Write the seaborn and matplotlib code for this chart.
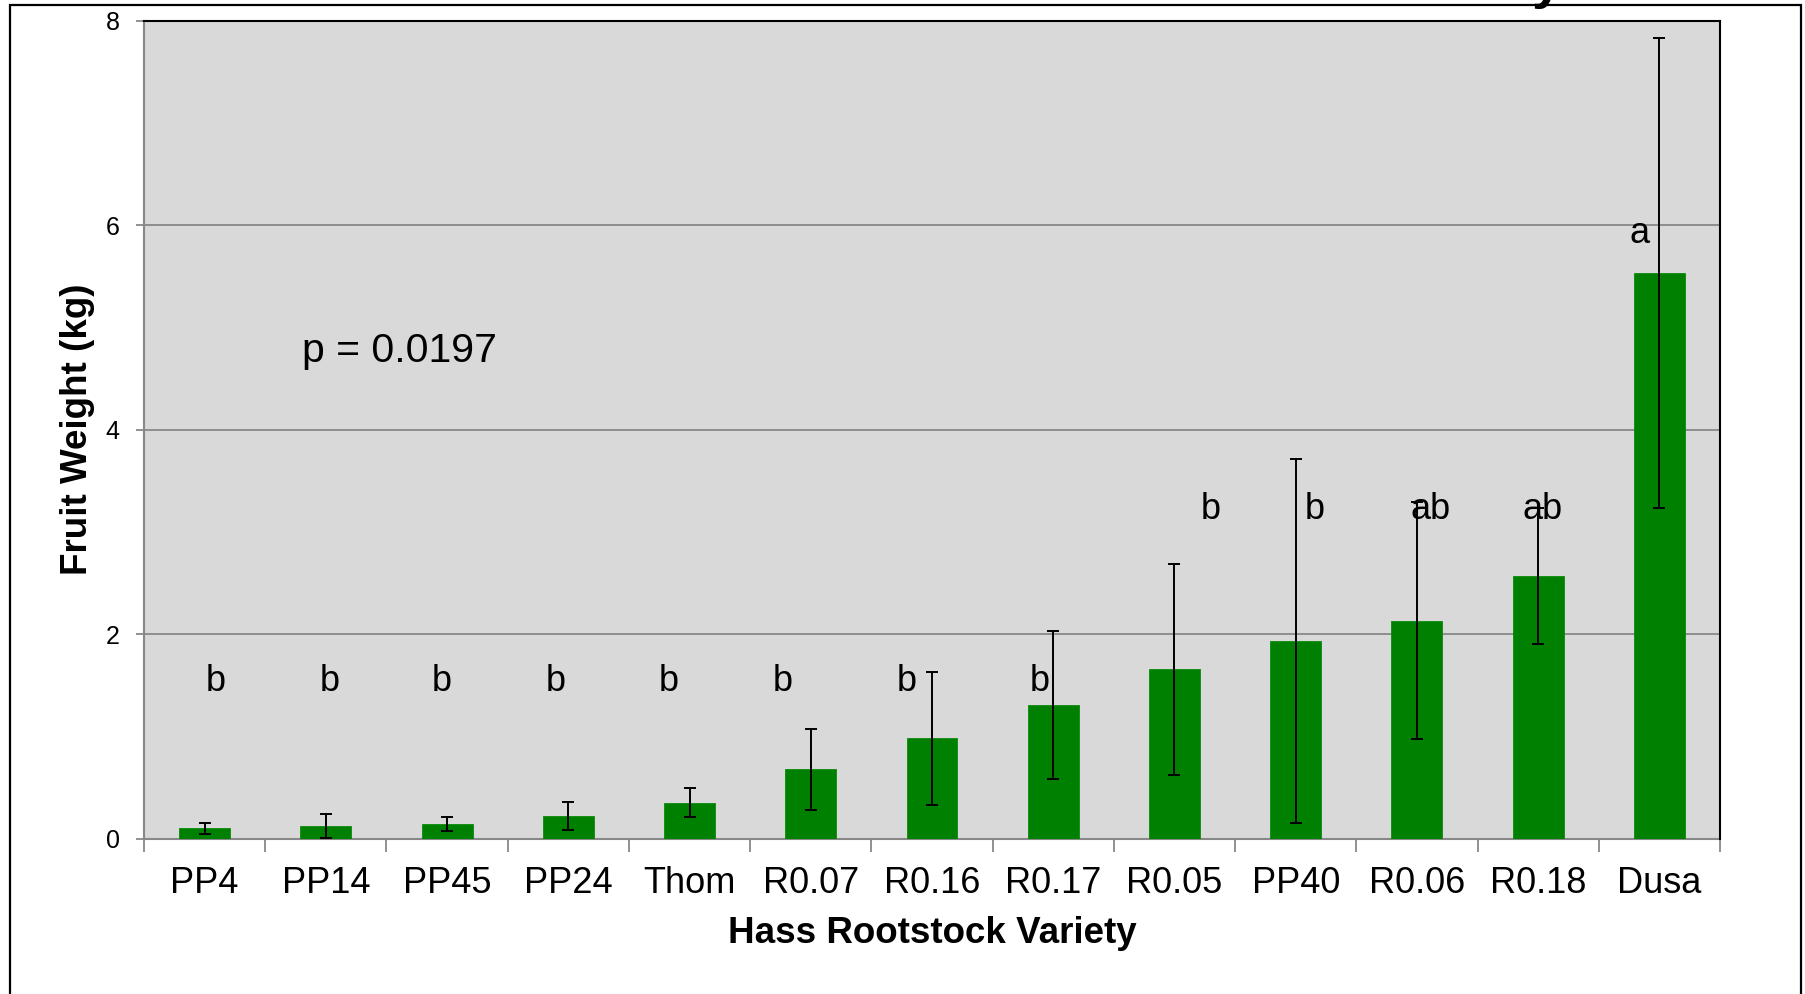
import matplotlib
matplotlib.use("Agg")
import matplotlib.pyplot as plt
import matplotlib.patches as mpatches
from matplotlib.ticker import FixedLocator, NullFormatter
import seaborn as sns
import pandas as pd

# ---- data ----
varieties = ["PP4", "PP14", "PP45", "PP24", "Thom", "R0.07", "R0.16",
             "R0.17", "R0.05", "PP40", "R0.06", "R0.18", "Dusa"]
fruit_weight = [0.10, 0.12, 0.145, 0.22, 0.35, 0.675, 0.98,
                1.305, 1.655, 1.935, 2.13, 2.57, 5.53]
std_err = [0.055, 0.118, 0.07, 0.137, 0.14, 0.395, 0.65,
           0.725, 1.03, 1.78, 1.16, 0.665, 2.3]
groups = ["b", "b", "b", "b", "b", "b", "b", "b", "b", "b", "ab", "ab", "a"]
group_label_y = [1.44, 1.44, 1.44, 1.44, 1.44, 1.44, 1.44, 1.44,
                 3.13, 3.13, 3.13, 3.13, 5.83]
y_ticks = [0, 2, 4, 6, 8]
p_text = "p = 0.0197"

# layout-only: horizontal nudges of the letter labels (category units)
letter_dx = [0.09, 0.03, -0.04, -0.10, -0.17, -0.23, -0.21, -0.11,
             0.30, 0.155, 0.11, 0.04, -0.165]

df = pd.DataFrame({"variety": varieties, "weight": fruit_weight})

sns.set_style("white")
plt.rcParams["font.family"] = ["Liberation Sans", "DejaVu Sans"]
plt.rcParams["text.color"] = "black"
plt.rcParams["axes.labelcolor"] = "black"
plt.rcParams["xtick.labelcolor"] = "black"
plt.rcParams["ytick.labelcolor"] = "black"

W, H = 1806, 994
fig = plt.figure(figsize=(W / 100, H / 100), dpi=100)
ax = fig.add_axes([144 / W, 1 - 838.5 / H, (1720 - 144) / W, (838.5 - 20.7) / H])
ax.set_facecolor("#D9D9D9")

sns.barplot(data=df, x="variety", y="weight", color="#008000", saturation=1,
            width=0.42, errorbar=None, ax=ax, zorder=3,
            edgecolor="#0A8A0A", linewidth=0.6)
ax.errorbar(x=list(range(len(varieties))), y=fruit_weight, yerr=std_err,
            fmt="none", ecolor="black", elinewidth=1.4, capsize=4.5,
            capthick=1.4, zorder=4)

ax.set_xlim(-0.5, len(varieties) - 0.5)
ax.set_ylim(0, 8)
ax.set_yticks(y_ticks)
ax.yaxis.grid(True, color="#888888", linewidth=1.3, zorder=0)
ax.set_axisbelow(True)

# spines
for s in ("left", "bottom"):
    ax.spines[s].set_color("#888888")
    ax.spines[s].set_linewidth(1.5)
for s in ("top", "right"):
    ax.spines[s].set_color("black")
    ax.spines[s].set_linewidth(1.5)
    ax.spines[s].set_zorder(5)

ax.tick_params(axis="y", which="major", direction="out", length=6,
               width=1.3, color="#888888", labelsize=18, pad=11.5,
               left=True, labelcolor="black")
ax.tick_params(axis="x", which="major", length=0, labelsize=26, pad=20,
               labelcolor="black")
ax.xaxis.set_minor_locator(FixedLocator([i - 0.5 for i in range(len(varieties) + 1)]))
ax.xaxis.set_minor_formatter(NullFormatter())
ax.tick_params(axis="x", which="minor", direction="out", length=9,
               width=1.3, color="#888888", bottom=True)

ax.set_xlabel("Hass Rootstock Variety", fontsize=26.5, fontweight="bold",
              color="black")
ax.set_ylabel("Fruit Weight (kg)", fontsize=26.5, fontweight="bold",
              color="black")
ax.xaxis.label.set_va("center")
ax.yaxis.label.set_va("center")
ax.xaxis.set_label_coords(0.5, -0.1156)
ax.yaxis.set_label_coords(-0.0419, 0.5)

for i, (g, gy) in enumerate(zip(groups, group_label_y)):
    ax.text(i + letter_dx[i], gy, g, fontsize=26, ha="center",
            va="baseline", color="black", zorder=6)

ax.text(0.80, 4.77, p_text, fontsize=29.5, ha="left", va="center",
        color="black", zorder=6)

# outer frame of the original slide
frame = mpatches.Rectangle((10 / W, -0.05), (1801 - 10) / W, 1.05 - 5 / H,
                           transform=fig.transFigure, fill=False,
                           edgecolor="black", linewidth=1.6)
fig.patches.append(frame)
# remnant of a cut-off title glyph at the top edge
fig.text(1532 / W, 1 + 3 / H, "y", fontsize=40, fontweight="bold",
         ha="left", va="baseline", color="black")

fig.savefig("out.png", dpi=100)
